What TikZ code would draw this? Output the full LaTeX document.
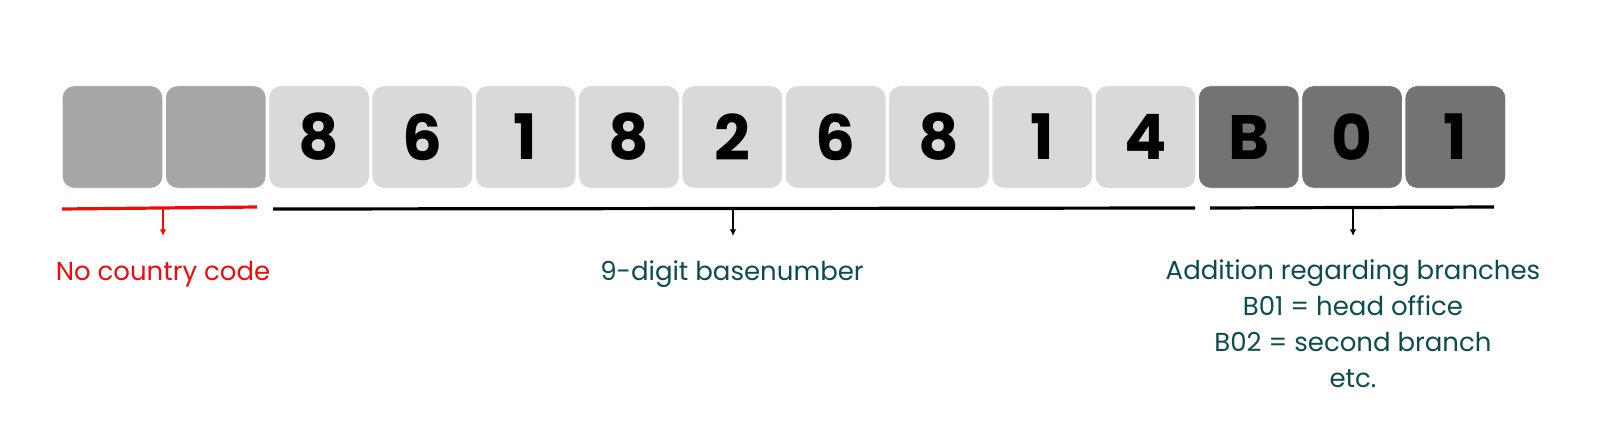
\documentclass[tikz,border=0pt]{standalone}
\usepackage{fontspec}
\setmainfont{Poppins}
\usetikzlibrary{arrows.meta}
\definecolor{boxcountry}{RGB}{166,166,166}
\definecolor{boxbase}{RGB}{217,217,217}
\definecolor{boxbranch}{RGB}{115,115,115}
\definecolor{tealtext}{RGB}{12,76,76}
\definecolor{redtext}{RGB}{240,10,10}
\tikzset{
  cell/.style={draw=white, line width=0.6pt, rounded corners=9pt, minimum width=75.5pt, minimum height=77pt, inner sep=0pt, font=\fontsize{47}{47}\selectfont\bfseries},
  brace line/.style={line width=2.4pt},
  down arrow/.style={line width=1pt, -{Latex[length=5pt,width=5pt]}},
  label text/.style={inner sep=0.75pt, color=tealtext, font=\fontsize{19.5}{27}\selectfont}
}
\begin{document}
\begin{tikzpicture}[x=0.75pt,y=0.75pt,yscale=-1,xscale=1]
%set diagram left start at 0, and has height of 426
\path[use as bounding box] (0,0) rectangle (1600,426);

%Shape: Rounded Rectangles, country code
\draw (112.5,137) node [cell, fill=boxcountry] (cc1) {};
\draw (215.8,137) node [cell, fill=boxcountry] (cc2) {};
%Shape: Rounded Rectangles, base number
\draw (319.1,137) node [cell, fill=boxbase] (bn1) {8};
\draw (422.4,137) node [cell, fill=boxbase] (bn2) {6};
\draw (525.7,137) node [cell, fill=boxbase] (bn3) {1};
\draw (629.0,137) node [cell, fill=boxbase] (bn4) {8};
\draw (732.3,137) node [cell, fill=boxbase] (bn5) {2};
\draw (835.6,137) node [cell, fill=boxbase] (bn6) {6};
\draw (938.9,137) node [cell, fill=boxbase] (bn7) {8};
\draw (1042.2,137) node [cell, fill=boxbase] (bn8) {1};
\draw (1145.5,137) node [cell, fill=boxbase] (bn9) {4};
%Shape: Rounded Rectangles, branch
\draw (1248.8,137) node [cell, fill=boxbranch] (br1) {B};
\draw (1352.1,137) node [cell, fill=boxbranch] (br2) {0};
\draw (1455.4,137) node [cell, fill=boxbranch] (br3) {1};

%Straight Lines, brackets
\coordinate (ccL) at (62,209); \coordinate (ccR) at (257,207);
\coordinate (bnL) at (273,209); \coordinate (bnR) at (1195,208);
\coordinate (brL) at (1210,208); \coordinate (brR) at (1494,207);
\draw [brace line, color=redtext] (ccL) -- (ccR);
\draw [brace line] (bnL) -- (bnR);
\draw [brace line] (brL) -- (brR);

%Straight Lines, arrows
\coordinate (ccM) at (163,208); \coordinate (ccT) at (163,236);
\coordinate (bnM) at (733,209); \coordinate (bnT) at (733,236);
\coordinate (brM) at (1353,208); \coordinate (brT) at (1353,236);
\draw [down arrow, color=redtext] (ccM) -- (ccT);
\draw [down arrow] (bnM) -- (bnT);
\draw [down arrow] (brM) -- (brT);

% Text Node
\draw (163,280) node [anchor=base] [label text, color=redtext] (cctext) {No country code};
% Text Node
\draw (732,280) node [anchor=base] [label text] (bntext) {9-digit basenumber};
% Text Node
\draw (1353,258) node [anchor=north] [label text, align=center] (brtext) {Addition regarding branches\\B01 = head office\\B02 = second branch\\etc.};

\end{tikzpicture}
\end{document}
